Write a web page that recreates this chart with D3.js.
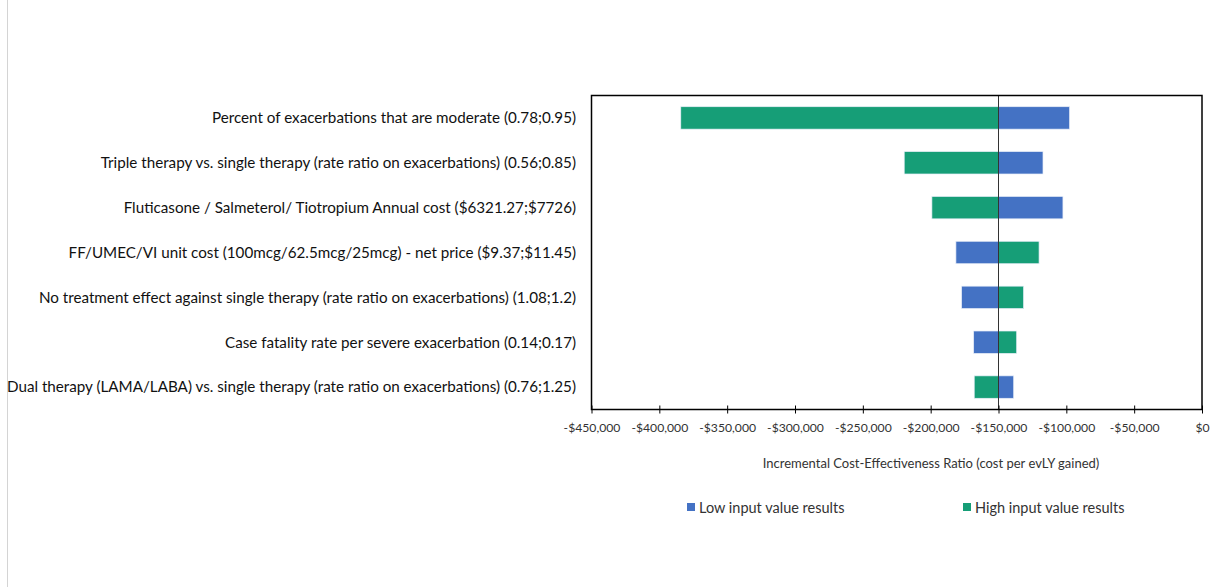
<!DOCTYPE html>
<html><head><meta charset="utf-8">
<script src="https://cdn.jsdelivr.net/npm/d3@7"></script>
<style>body{margin:0;background:#fff}svg{display:block}</style>
</head><body>
<svg id="c" width="1217" height="587"></svg>
<script>
const categories = [
  "Percent of exacerbations that are moderate (0.78;0.95)",
  "Triple therapy vs. single therapy (rate ratio on exacerbations) (0.56;0.85)",
  "Fluticasone / Salmeterol/ Tiotropium Annual cost ($6321.27;$7726)",
  "FF/UMEC/VI unit cost (100mcg/62.5mcg/25mcg) - net price ($9.37;$11.45)",
  "No treatment effect against single therapy (rate ratio on exacerbations) (1.08;1.2)",
  "Case fatality rate per severe exacerbation (0.14;0.17)",
  "Dual therapy (LAMA/LABA) vs. single therapy (rate ratio on exacerbations) (0.76;1.25)"
];
const baseCase = -150000;
const lowResults  = [-97600, -117200, -102500, -181400, -177200, -168300, -138800];
const highResults = [-384200, -219500, -199100, -120100, -131500, -136600, -167900];
const tickValues = [-450000,-400000,-350000,-300000,-250000,-200000,-150000,-100000,-50000,0];
const seriesNames = ["Low input value results","High input value results"];
const colors = ["#4472C4","#169E77"];

const svg = d3.select("#c");
const font = "Lato, 'Open Sans', sans-serif";
const m = {l:591.5, r:1202, t:95.5, b:409.5};

svg.append("line").attr("x1",7.5).attr("x2",7.5).attr("y1",0).attr("y2",587)
  .attr("stroke","#d4d4d4").attr("stroke-width",1);

const x = d3.scaleLinear().domain([-450000,0]).range([m.l,m.r]);
const y = d3.scaleBand().domain(categories).range([m.t,m.b]).paddingInner(0.5).paddingOuter(0.25);

const g = svg.append("g");
const bar = (vals, color) => {
  g.selectAll(null).data(categories).enter().append("rect")
    .attr("x",(d,i)=>x(Math.min(vals[i],baseCase)))
    .attr("width",(d,i)=>Math.abs(x(vals[i])-x(baseCase)))
    .attr("y",d=>y(d)).attr("height",y.bandwidth())
    .attr("fill",color).attr("stroke","#e8eef8").attr("stroke-width",0.7);
};
bar(highResults, colors[1]);
bar(lowResults, colors[0]);

svg.append("line").attr("x1",x(baseCase)).attr("x2",x(baseCase)).attr("y1",m.t).attr("y2",m.b)
  .attr("stroke","#333").attr("stroke-width",1);

svg.append("rect").attr("x",m.l).attr("y",m.t).attr("width",m.r-m.l).attr("height",m.b-m.t)
  .attr("fill","none").attr("stroke","#000").attr("stroke-width",1.5);

const ax = svg.append("g").attr("transform",`translate(0,${m.b})`)
  .call(d3.axisBottom(x).tickValues(tickValues).tickSize(0)
    .tickFormat(d=> (d<0?"-$":"$")+d3.format(",")(Math.abs(d))));
ax.select(".domain").remove();
ax.selectAll(".tick line").attr("y1",-4).attr("y2",4).attr("stroke","#000");
ax.selectAll(".tick text").attr("dy",0).attr("y",22).attr("font-family",font).attr("font-size",12.2).attr("fill","#333");

svg.append("g").selectAll("text").data(categories).enter().append("text")
  .attr("x",576).attr("y",d=>y(d)+y.bandwidth()/2).attr("dy","0.35em")
  .attr("text-anchor","end").attr("font-family",font).attr("font-size",15.2).attr("fill","#111")
  .text(d=>d);

svg.append("text").attr("x",931).attr("y",468).attr("text-anchor","middle")
  .attr("font-family",font).attr("font-size",13).attr("fill","#333")
  .text("Incremental Cost-Effectiveness Ratio (cost per evLY gained)");

const leg = [{x:687},{x:963}];
seriesNames.forEach((n,i)=>{
  svg.append("rect").attr("x",leg[i].x).attr("y",503).attr("width",8).attr("height",8).attr("fill",colors[i]);
  svg.append("text").attr("x",leg[i].x+12).attr("y",512.5).attr("font-family",font)
    .attr("font-size",14.5).attr("fill","#333").text(n);
});
</script>
</body></html>
